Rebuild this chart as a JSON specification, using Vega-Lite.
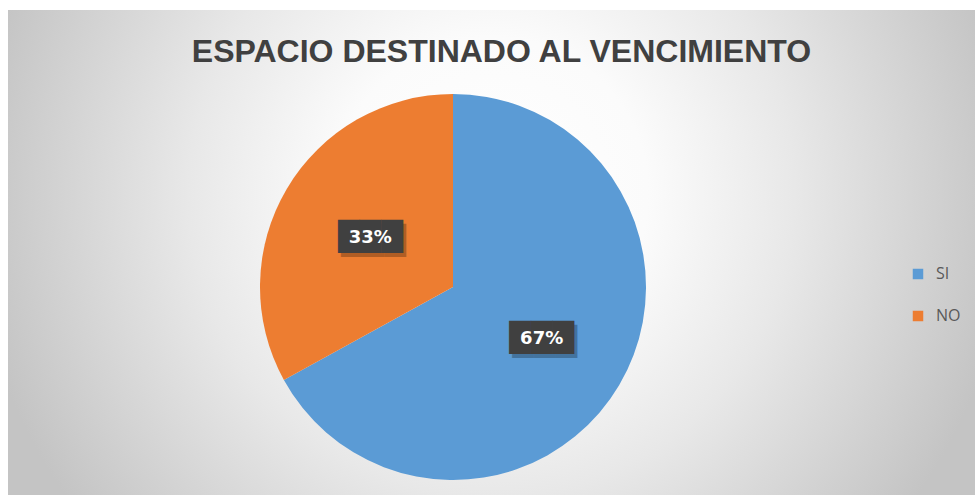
{
  "$schema": "https://vega.github.io/schema/vega-lite/v6.json",
  "width": 967,
  "height": 485,
  "autosize": {"type": "none"},
  "padding": {"left": 8, "top": 10, "right": 0, "bottom": 0},
  "background": "white",
  "config": {"view": {"stroke": null}},
  "title": {
    "text": "ESPACIO DESTINADO AL VENCIMIENTO",
    "font": "Liberation Sans",
    "fontSize": 32,
    "fontWeight": "bold",
    "color": "#404040",
    "anchor": "middle",
    "baseline": "alphabetic",
    "offset": -84,
    "dx": 10
  },
  "data": {
    "values": [
      {"respuesta": "SI", "porcentaje": 0.67},
      {"respuesta": "NO", "porcentaje": 0.33}
    ]
  },
  "layer": [
    {
      "data": {"values": [{}]},
      "mark": {
        "type": "rect",
        "clip": true,
        "fill": {
          "gradient": "radial",
          "x1": 0.5, "y1": 0.5, "r1": 0,
          "x2": 0.5, "y2": 0.5, "r2": 0.54,
          "stops": [
            {"offset": 0, "color": "#ffffff"},
            {"offset": 0.3, "color": "#fbfbfb"},
            {"offset": 0.58, "color": "#e8e8e8"},
            {"offset": 1, "color": "#c4c4c4"}
          ]
        }
      },
      "encoding": {
        "x": {"value": 0},
        "x2": {"value": "width"},
        "y": {"value": -300},
        "y2": {"value": 667}
      }
    },
    {
      "encoding": {
        "theta": {"field": "porcentaje", "type": "quantitative", "stack": true},
        "order": {"field": "porcentaje", "sort": "descending"},
        "x": {"value": 445},
        "y": {"value": 277}
      },
      "layer": [
        {
          "mark": {"type": "arc", "outerRadius": 193},
          "encoding": {
            "color": {
              "field": "respuesta",
              "type": "nominal",
              "scale": {"domain": ["SI", "NO"], "range": ["#5B9BD5", "#ED7D31"]},
              "legend": {
                "orient": "none",
                "legendX": 902,
                "legendY": 256,
                "title": null,
                "symbolType": "square",
                "symbolSize": 110,
                "symbolStrokeWidth": 0,
                "labelFontSize": 16,
                "labelFont": "Open Sans",
                "labelColor": "#595959",
                "labelOffset": 10,
                "rowPadding": 26
              }
            }
          }
        },
        {
          "mark": {"type": "text", "radius": {"expr": "datum.respuesta == 'NO' ? 96 : 103"}, "font": "DejaVu Sans", "fontSize": 28, "baseline": "middle", "align": "center", "fill": "#000000", "opacity": 0.25, "dx": 3, "dy": 4},
          "encoding": {"text": {"value": "███"}}
        },
        {
          "mark": {"type": "text", "radius": {"expr": "datum.respuesta == 'NO' ? 96 : 103"}, "font": "DejaVu Sans", "fontSize": 28, "baseline": "middle", "align": "center", "fill": "#404040"},
          "encoding": {"text": {"value": "███"}}
        },
        {
          "mark": {"type": "text", "radius": {"expr": "datum.respuesta == 'NO' ? 96 : 103"}, "font": "DejaVu Sans", "fontSize": 18, "fontWeight": "bold", "baseline": "middle", "align": "center", "fill": "#ffffff"},
          "encoding": {"text": {"field": "porcentaje", "type": "quantitative", "format": ".0%"}}
        }
      ]
    }
  ]
}
